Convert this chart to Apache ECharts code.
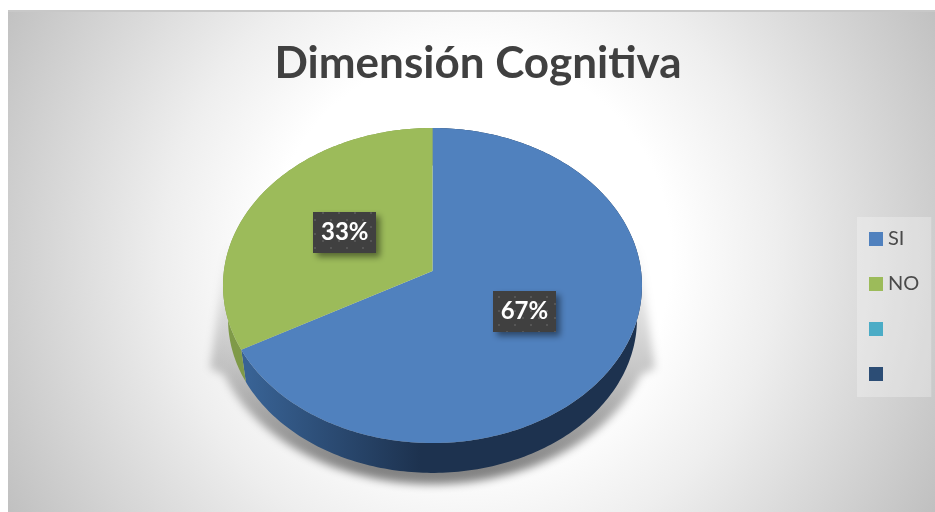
<!DOCTYPE html>
<html>
<head>
<meta charset="utf-8">
<title>Dimensión Cognitiva</title>
<style>
  html, body { margin: 0; padding: 0; background: #fff; }
  #chart { width: 935px; height: 512px; }
</style>
<script src="https://cdn.jsdelivr.net/npm/echarts@6/dist/echarts.min.js"></script>
</head>
<body>
<div id="chart"></div>
<script>
// datos
const categories = ['SI', 'NO', ' ', '  '];
const values = [67, 33];
const colors = ['#5081be', '#9cbb5a', '#4bacc6', '#2c4d75'];
const titleText = 'Dimensión Cognitiva';

const chart = echarts.init(document.getElementById('chart'), null, { renderer: 'canvas' });

// el disco se ve en perspectiva: circulo unidad -> pantalla
const CX = 432.5, CY = 271, RX = 208.6, RY = 156.2, PERSP = -0.092;
const BASE_SCALE = 0.976, BASE_DY = 34;

function project(deg, f, scale, dy) {
  f = f === undefined ? 1 : f;
  scale = scale === undefined ? 1 : scale;
  dy = dy || 0;
  const a = deg * Math.PI / 180;
  const u = Math.sin(a) * f, v = -Math.cos(a) * f;
  const d = 1 + PERSP * v;
  return [CX + scale * RX * u / d, CY + dy + scale * RY * v / d];
}

function arc(from, to, scale, dy) {
  const pts = [];
  const n = Math.max(2, Math.ceil(Math.abs(to - from)));
  for (let i = 0; i <= n; i++) {
    pts.push(project(from + (to - from) * i / n, 1, scale, dy));
  }
  return pts;
}

// textura de puntos de las etiquetas
function dotPattern() {
  const c = document.createElement('canvas');
  c.width = 16; c.height = 14;
  const ctx = c.getContext('2d');
  ctx.fillStyle = '#404040';
  ctx.fillRect(0, 0, 16, 14);
  ctx.fillStyle = '#565656';
  ctx.fillRect(2, 2, 2, 2);
  ctx.fillRect(10, 9, 2, 2);
  return c;
}
const pattern = dotPattern();

const total = values.reduce((a, b) => a + b, 0);

function renderSlice(params, api) {
  const idx = params.seriesIndex;
  const val = api.value(0);
  let before = 0;
  for (let i = 0; i < idx; i++) before += values[i];
  const start = before / total * 360;
  const end = (before + val) / total * 360;
  const mid = (start + end) / 2;

  const top = arc(start, end).concat([[CX, CY]]);
  const wall = arc(start, end).concat(arc(end, start, BASE_SCALE, BASE_DY));
  const wallFill = idx === 0
    ? { type: 'linear', x: 250, y: 0, x2: 420, y2: 0, global: true,
        colorStops: [{ offset: 0, color: '#386294' }, { offset: 1, color: '#1d324f' }] }
    : '#7f9a48';

  const lp = project(mid, 0.5);
  const w = 63, h = 41;
  return {
    type: 'group',
    children: [
      { type: 'polygon', z2: 1, shape: { points: wall }, style: { fill: wallFill } },
      { type: 'polygon', z2: 2, shape: { points: top }, style: { fill: api.visual('color') } },
      {
        type: 'rect', z2: 3,
        shape: { x: Math.round(lp[0] - w / 2), y: Math.round(lp[1] - h / 2), width: w, height: h },
        style: {
          fill: { image: pattern, repeat: 'repeat' },
          shadowColor: 'rgba(0,0,0,0.45)', shadowBlur: 6, shadowOffsetX: 4, shadowOffsetY: 4
        }
      },
      {
        type: 'text', z2: 4,
        style: {
          x: lp[0], y: lp[1], text: Math.round(val / total * 100) + '%',
          align: 'center', verticalAlign: 'middle',
          fill: '#fff', fontFamily: 'Lato', fontWeight: 'bold', fontSize: 24
        }
      }
    ]
  };
}

// sombra bajo el disco: solo se ve el desenfoque, la forma queda fuera del lienzo
const SHADOW_SHIFT = 2000;
const shadowPts = [[638, 240], [655, 368]]
  .concat(arc(115, 245, 1.06, 31))
  .concat([[210, 368], [227, 240]])
  .map(p => [p[0] - SHADOW_SHIFT, p[1]]);

const option = {
  animation: false,
  title: {
    text: titleText,
    left: 473,
    top: 37,
    textAlign: 'center',
    textStyle: { color: '#404040', fontFamily: 'Lato', fontWeight: 'bold', fontSize: 44 }
  },
  legend: {
    orient: 'vertical',
    left: 857,
    top: 217,
    padding: [12, 12, 13, 12],
    itemGap: 25,
    itemWidth: 14,
    itemHeight: 14,
    icon: 'rect',
    backgroundColor: 'rgba(255,255,255,0.28)',
    data: categories,
    textStyle: { color: '#4a4a4a', fontFamily: 'Lato', fontSize: 20, lineHeight: 20 }
  },
  graphic: [
    {
      type: 'rect', z: -2, silent: true,
      shape: { x: 8, y: 11, width: 927, height: 501 },
      style: {
        fill: {
          type: 'radial', x: 470, y: 255, r: 530, global: true,
          colorStops: [
            { offset: 0, color: '#ffffff' },
            { offset: 0.38, color: '#ffffff' },
            { offset: 0.58, color: '#eeeeee' },
            { offset: 1, color: '#c0c0c0' }
          ]
        }
      }
    },
    {
      type: 'rect', z: -1, silent: true,
      shape: { x: 8, y: 10, width: 927, height: 2 },
      style: { fill: '#c8c8c8' }
    },
    {
      type: 'polygon', z: -1, silent: true,
      shape: { points: shadowPts },
      style: {
        fill: {
          type: 'linear', x: 0, y: 240, x2: 0, y2: 470, global: true,
          colorStops: [
            { offset: 0, color: 'rgba(0,0,0,0)' },
            { offset: 0.55, color: 'rgba(0,0,0,0.38)' },
            { offset: 1, color: 'rgba(0,0,0,0.85)' }
          ]
        },
        shadowColor: 'rgba(110,110,110,1)',
        shadowBlur: 9,
        shadowOffsetX: SHADOW_SHIFT
      }
    }
  ],
  series: categories.map((name, i) => ({
    type: 'custom',
    name: name,
    coordinateSystem: 'none',
    itemStyle: { color: colors[i] },
    data: i < values.length ? [values[i]] : [],
    renderItem: renderSlice
  }))
};

chart.setOption(option);
</script>
</body>
</html>
